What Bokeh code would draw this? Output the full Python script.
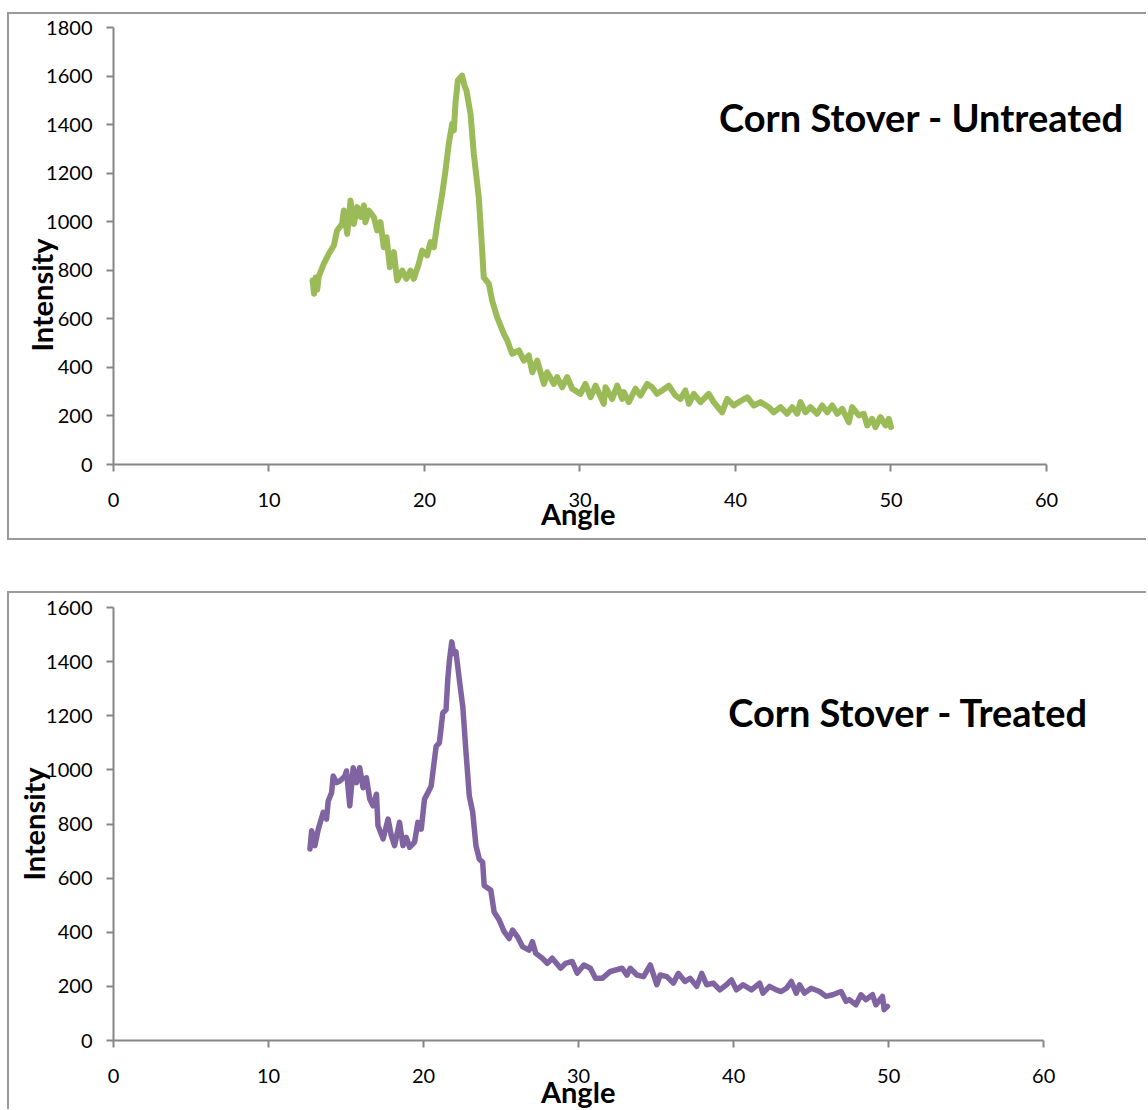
from bokeh.embed import file_html
from bokeh.layouts import column
from bokeh.models import FixedTicker, Label, Range1d
from bokeh.plotting import figure
from bokeh.resources import INLINE

# X-ray diffraction scans of corn stover (angle in degrees 2-theta, intensity in counts)
untreated_angle = [
    12.80, 12.90, 13.00, 13.10, 13.20, 13.52, 13.85, 14.17, 14.38, 14.70,
    14.81, 15.03, 15.24, 15.45, 15.67, 15.90, 16.10, 16.20, 16.42, 16.74,
    16.96, 17.17, 17.38, 17.56, 17.77, 18.03, 18.24, 18.57, 18.84, 19.10,
    19.31, 19.63, 19.85, 20.17, 20.39, 20.60, 20.82, 21.14, 21.35, 21.56,
    21.78, 21.89, 21.99, 22.14, 22.42, 22.57, 22.70, 22.96, 23.17, 23.49,
    23.71, 23.81, 24.14, 24.35, 24.67, 25.10, 25.32, 25.64, 26.07, 26.39,
    26.71, 26.93, 27.25, 27.68, 27.89, 28.32, 28.53, 28.85, 29.18, 29.50,
    30.03, 30.35, 30.68, 31.00, 31.53, 31.64, 32.07, 32.39, 32.71, 32.82,
    33.14, 33.57, 33.89, 34.32, 34.64, 34.96, 35.28, 35.71, 36.14, 36.46,
    36.78, 37.00, 37.32, 37.75, 38.28, 38.60, 39.14, 39.47, 39.89, 40.21,
    40.75, 41.18, 41.61, 42.14, 42.46, 42.89, 43.32, 43.64, 43.97, 44.18,
    44.50, 44.82, 45.25, 45.57, 45.90, 46.22, 46.54, 46.86, 47.29, 47.50,
    47.93, 48.25, 48.47, 48.79, 49.00, 49.32, 49.65, 49.86, 50.00,
]
untreated_intensity = [
    758, 703, 770, 720, 775, 826, 868, 902, 964, 991,
    1046, 950, 1087, 991, 1060, 1020, 1067, 998, 1046, 1019,
    964, 998, 895, 936, 813, 875, 758, 799, 765, 799,
    765, 826, 881, 861, 916, 895, 991, 1115, 1211, 1321,
    1403, 1376, 1486, 1582, 1602, 1561, 1540, 1444, 1280, 1101,
    881, 771, 744, 675, 607, 538, 511, 456, 470, 428,
    449, 380, 428, 332, 380, 332, 360, 318, 360, 312,
    291, 332, 277, 325, 250, 318, 270, 325, 270, 298,
    257, 312, 284, 332, 318, 291, 305, 325, 284, 270,
    305, 250, 291, 257, 291, 257, 215, 270, 243, 257,
    277, 243, 257, 236, 215, 236, 209, 236, 209, 257,
    215, 236, 209, 243, 215, 243, 209, 229, 174, 236,
    202, 209, 161, 188, 154, 195, 161, 188, 154,
]

treated_angle = [
    12.67, 12.78, 12.99, 13.21, 13.53, 13.74, 13.85, 14.07, 14.17, 14.39,
    14.60, 14.92, 15.03, 15.24, 15.46, 15.67, 15.88, 16.10, 16.31, 16.53,
    16.74, 16.96, 17.06, 17.39, 17.71, 17.92, 18.13, 18.45, 18.67, 18.88,
    19.10, 19.42, 19.63, 19.85, 20.06, 20.28, 20.49, 20.81, 21.02, 21.24,
    21.45, 21.56, 21.67, 21.82, 21.95, 22.09, 22.31, 22.53, 22.74, 22.95,
    23.17, 23.38, 23.59, 23.81, 23.91, 24.34, 24.55, 24.88, 25.20, 25.52,
    25.74, 26.06, 26.38, 26.80, 27.02, 27.24, 27.66, 27.98, 28.30, 28.84,
    29.16, 29.59, 29.91, 30.34, 30.76, 31.09, 31.52, 32.05, 32.80, 33.12,
    33.33, 33.76, 34.19, 34.62, 35.05, 35.26, 35.69, 36.11, 36.44, 36.87,
    37.19, 37.62, 37.94, 38.26, 38.69, 39.11, 39.54, 39.86, 40.18, 40.61,
    41.15, 41.68, 41.89, 42.32, 42.75, 43.07, 43.40, 43.72, 44.04, 44.25,
    44.57, 45.00, 45.54, 45.96, 46.39, 46.93, 47.25, 47.46, 47.89, 48.21,
    48.54, 48.96, 49.18, 49.60, 49.71, 49.92,
]
treated_intensity = [
    708, 775, 720, 781, 843, 818, 885, 916, 977, 953,
    959, 977, 996, 867, 1008, 953, 1008, 934, 971, 892,
    867, 910, 794, 745, 818, 757, 720, 806, 720, 751,
    714, 733, 806, 781, 892, 916, 940, 1087, 1100, 1210,
    1222, 1332, 1406, 1473, 1430, 1436, 1332, 1234, 1063, 904,
    843, 720, 671, 659, 573, 555, 475, 445, 402, 377,
    408, 383, 347, 334, 365, 322, 304, 285, 304, 267,
    285, 292, 249, 279, 267, 230, 230, 255, 267, 242,
    267, 242, 236, 279, 206, 242, 236, 212, 248, 218,
    230, 200, 248, 206, 212, 187, 206, 224, 187, 206,
    187, 212, 175, 200, 187, 181, 193, 218, 175, 206,
    175, 193, 181, 163, 169, 181, 145, 151, 132, 169,
    151, 169, 132, 163, 114, 126,
]

x_ticks = [0, 10, 20, 30, 40, 50, 60]
AXIS_GREY = "#868686"
BOX_GREY = "#9a9a9a"
FONT = "Lato"
NBSP = "\u00a0"


def panel(angle, intensity, color, line_width, y_max, x_end, title, title_pos,
          ylab_text, ylab_standoff, xlab_text, xlab_standoff, height, borders,
          margin):
    # the x range runs past 60 so the frame reaches the right edge of the
    # box; the axis itself is bounded to 0..60
    p = figure(
        width=1139, height=height,
        x_range=Range1d(0, x_end), y_range=Range1d(0, y_max),
        output_backend="svg", toolbar_location=None,
        min_border_left=borders[0], min_border_right=0,
        min_border_top=borders[1], min_border_bottom=borders[2],
    )
    p.margin = margin
    p.xgrid.visible = False
    p.ygrid.visible = False
    p.outline_line_color = None
    p.background_fill_color = "white"
    p.border_fill_color = "white"

    p.xaxis.ticker = FixedTicker(ticks=x_ticks)
    p.xaxis.bounds = (0, 60)
    p.yaxis.ticker = FixedTicker(ticks=list(range(0, y_max + 1, 200)))
    for ax in (p.xaxis[0], p.yaxis[0]):
        ax.axis_line_color = AXIS_GREY
        ax.axis_line_width = 2
        ax.major_tick_line_color = AXIS_GREY
        ax.major_tick_line_width = 2
        ax.major_tick_in = 0
        ax.major_tick_out = 7
        ax.minor_tick_line_color = None
        ax.major_label_text_font = FONT
        ax.major_label_text_font_size = "20px"
        ax.major_label_text_color = "black"
        ax.axis_label_text_font = FONT
        ax.axis_label_text_font_style = "bold"
        ax.axis_label_text_font_size = "29px"
        ax.axis_label_text_color = "black"
    p.xaxis.major_label_standoff = 21
    p.yaxis.major_label_standoff = 14
    p.xaxis.axis_label = xlab_text
    p.xaxis.axis_label_standoff = xlab_standoff
    p.yaxis.axis_label = ylab_text
    p.yaxis.axis_label_standoff = ylab_standoff

    p.line(angle, intensity, line_color=color, line_width=line_width,
           line_join="round", line_cap="round")

    p.add_layout(Label(
        x=title_pos[0], y=title_pos[1], text=title,
        text_font=FONT, text_font_style="bold", text_font_size="38px",
        text_align="center", text_baseline="middle", text_color="black",
    ))
    return p


# trailing no-break spaces pull the centred axis titles towards the axis origin
top = panel(
    untreated_angle, untreated_intensity, "#9BBB59", 6, 1800, 66.56,
    "Corn Stover - Untreated", (51.96, 1433),
    "Intensity" + NBSP * 14, -16, "Angle" + NBSP * 15, -14,
    height=528, borders=(104, 13, 78), margin=(12, 0, 0, 7),
)
top.styles = {
    "border-top": f"2px solid {BOX_GREY}",
    "border-left": f"2px solid {BOX_GREY}",
    "border-bottom": f"2px solid {BOX_GREY}",
}

bottom = panel(
    treated_angle, treated_intensity, "#8064A2", 5.5, 1600, 66.76,
    "Corn Stover - Treated", (51.29, 1214),
    "Intensity", -8, "Angle" + NBSP * 15, -12,
    height=518, borders=(102, 14, 67), margin=(51, 0, 0, 7),
)
bottom.styles = {
    "border-top": f"2px solid {BOX_GREY}",
    "border-left": f"2px solid {BOX_GREY}",
}

layout = column(top, bottom, spacing=0)

with open("out.html", "w") as f:
    f.write(file_html(layout, INLINE))
